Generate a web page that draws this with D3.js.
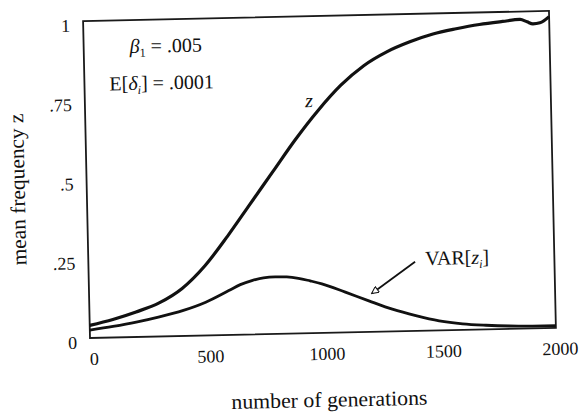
<!DOCTYPE html>
<html>
<head>
<meta charset="utf-8">
<script src="https://cdn.jsdelivr.net/npm/d3@7"></script>
<style>
  html, body { margin: 0; padding: 0; background: #fff; }
  svg { display: block; }
</style>
</head>
<body>
<svg id="chart" width="579" height="413"></svg>
<script>
// ---- data ----
const zGenerations = [0, 100, 200, 300, 400, 500, 600, 700, 800, 900, 1000, 1100, 1200, 1300, 1400, 1500, 1600, 1700, 1800, 1875, 1905, 1930, 1960, 2000];
const zMean        = [0.040, 0.057, 0.079, 0.106, 0.150, 0.220, 0.312, 0.412, 0.512, 0.612, 0.702, 0.780, 0.840, 0.882, 0.912, 0.935, 0.950, 0.962, 0.970, 0.975, 0.967, 0.960, 0.963, 0.982];

const varGenerations = [0, 100, 200, 300, 400, 500, 600, 650, 700, 750, 800, 850, 900, 950, 1000, 1100, 1200, 1300, 1400, 1500, 1600, 1700, 1800, 1900, 2000];
const varZ           = [0.025, 0.035, 0.047, 0.062, 0.080, 0.105, 0.140, 0.158, 0.170, 0.178, 0.180, 0.179, 0.174, 0.165, 0.155, 0.127, 0.098, 0.070, 0.048, 0.030, 0.019, 0.013, 0.009, 0.007, 0.007];

const xTicks = [0, 500, 1000, 1500, 2000];
const xTickLabels = ["0", "500", "1000", "1500", "2000"];
const yTicks = [0, 0.25, 0.5, 0.75, 1];
const yTickLabels = ["0", ".25", ".5", ".75", "1"];

const xTitle = "number of generations";
const yTitle = "mean frequency z";

const SERIF = '"Liberation Serif", "DejaVu Serif", serif';

// ---- layout ----
const W = 466, H = 317;
const svg = d3.select("#chart");
// the scanned figure is slightly rotated
const g = svg.append("g").attr("transform", "translate(90,338) rotate(-1.25)")
  .style("font-family", SERIF);

const x = d3.scaleLinear().domain([0, 2000]).range([0, W]);
const y = d3.scaleLinear().domain([0, 1]).range([0, -H]);

// frame
g.append("rect")
  .attr("x", x(0)).attr("y", y(1))
  .attr("width", x(2000) - x(0)).attr("height", y(0) - y(1))
  .attr("fill", "none").attr("stroke", "#1a1a1a").attr("stroke-width", 1.8);

// x axis labels
const xAxis = d3.axisBottom(x).tickValues(xTicks).tickSize(0)
  .tickFormat((d, i) => xTickLabels[i]);
const xg = g.append("g").call(xAxis);
xg.select(".domain").remove();
xg.attr("font-family", null).style("font-family", SERIF);
xg.selectAll("text")
  .style("font-family", SERIF).style("font-size", "18px").attr("fill", "#111")
  .attr("dy", null).attr("y", 27).attr("dx", 3.5);

// y axis labels
const yAxis = d3.axisLeft(y).tickValues(yTicks).tickSize(0)
  .tickFormat((d, i) => yTickLabels[i]);
const yg = g.append("g").call(yAxis);
yg.select(".domain").remove();
yg.attr("font-family", null).style("font-family", SERIF);
yg.selectAll("text")
  .style("font-family", SERIF).style("font-size", "18px").attr("fill", "#111")
  .attr("x", -13).attr("dy", "0.55em");

// curves
const zData = zGenerations.map((t, i) => [t, zMean[i]]);
const vData = varGenerations.map((t, i) => [t, varZ[i]]);
const line = d3.line().x(d => x(d[0])).y(d => y(d[1])).curve(d3.curveMonotoneX);

g.append("path").datum(zData).attr("d", line)
  .attr("fill", "none").attr("stroke", "#111").attr("stroke-width", 3.2).attr("stroke-linejoin", "round");
g.append("path").datum(vData).attr("d", line)
  .attr("fill", "none").attr("stroke", "#111").attr("stroke-width", 2.8).attr("stroke-linejoin", "round");

// annotations
function txt(sel) { return sel.style("font-family", SERIF).attr("fill", "#111"); }

const ann1 = txt(g.append("text")).attr("x", 46).attr("y", -284).style("font-size", "20px");
ann1.append("tspan").attr("font-style", "italic").text("β");
ann1.append("tspan").style("font-size", "12px").attr("dy", 4).text("1");
ann1.append("tspan").attr("dy", -4).text(" = .005");

const ann2 = txt(g.append("text")).attr("x", 25).attr("y", -247).style("font-size", "20px");
ann2.append("tspan").text("E[");
ann2.append("tspan").attr("font-style", "italic").text("δ");
ann2.append("tspan").attr("font-style", "italic").style("font-size", "12px").attr("dy", 4).text("i");
ann2.append("tspan").attr("dy", -4).text("] = .0001");

txt(g.append("text")).attr("x", x(945)).attr("y", y(0.713))
  .style("font-size", "20px").attr("font-style", "italic").text("z");

const ann3 = txt(g.append("text")).attr("x", x(1445)).attr("y", y(0.207)).style("font-size", "20px");
ann3.append("tspan").text("VAR[");
ann3.append("tspan").attr("font-style", "italic").text("z");
ann3.append("tspan").attr("font-style", "italic").style("font-size", "12px").attr("dy", 4).text("i");
ann3.append("tspan").attr("dy", -4).text("]");

// arrow
const defs = svg.append("defs");
defs.append("marker").attr("id", "ah").attr("viewBox", "0 0 10 10")
  .attr("refX", 9).attr("refY", 5).attr("markerWidth", 9).attr("markerHeight", 7)
  .attr("markerUnits", "userSpaceOnUse").attr("orient", "auto")
  .append("path").attr("d", "M0,0 L10,5 L0,10 Z").attr("fill", "#fff").attr("stroke", "#111").attr("stroke-width", 1.5);
g.append("line")
  .attr("x1", x(1402)).attr("y1", y(0.218))
  .attr("x2", x(1215)).attr("y2", y(0.122))
  .attr("stroke", "#111").attr("stroke-width", 1.8).attr("marker-end", "url(#ah)");

// axis titles
txt(g.append("text")).attr("x", 238).attr("y", 74).attr("text-anchor", "middle")
  .style("font-size", "21px").attr("textLength", 196).attr("lengthAdjust", "spacingAndGlyphs").text(xTitle);
txt(g.append("text")).attr("transform", "translate(-62,-150) rotate(-90)").attr("text-anchor", "middle")
  .style("font-size", "21px").attr("textLength", 152).attr("lengthAdjust", "spacingAndGlyphs").text(yTitle);
</script>
</body>
</html>
